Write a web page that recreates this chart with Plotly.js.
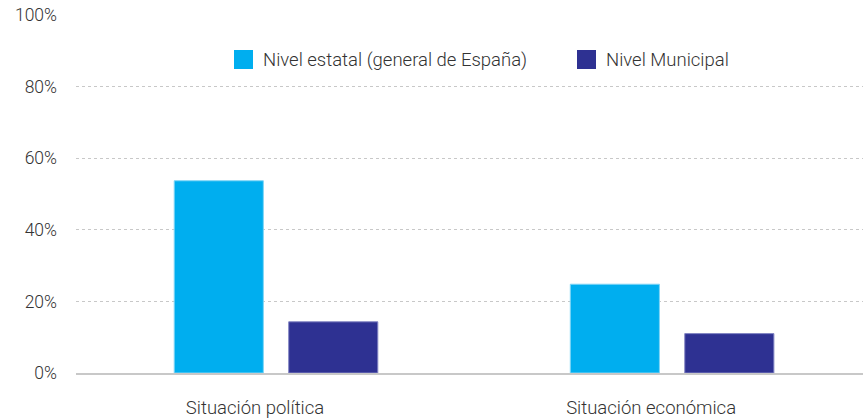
<!DOCTYPE html>
<html>
<head>
<meta charset="utf-8">
<script src="https://cdn.plot.ly/plotly-3.0.1.min.js"></script>
<style>html,body{margin:0;padding:0;background:#fff;}#chart{width:863px;height:419px;}</style>
</head>
<body>
<div id="chart"></div>
<script>
var categories = ["Situación política", "Situación económica"];
var seriesNames = ["Nivel estatal (general de España)", "Nivel Municipal"];
var estatal = [53.7, 24.8];
var municipal = [14.3, 11.0];
var yTicks = [0, 20, 40, 60, 80, 100];

var colors = ["#00AEEF", "#2E3192"];
var edge = ["#7FD5F6", "#8385C4"];

var W = 863, H = 419, L = 76, R = 0, T = 15, B = 46;
var pw = W - L - R, ph = H - T - B;
function px2x(p){ return (p - L) / pw; }
function py2y(p){ return (H - B - p) / ph; }

var fam = "Roboto, 'Helvetica Neue', Arial, sans-serif";
var font = {family: fam, size: 18.5, color: "#333333", weight: 300};
var yfont = {family: fam, size: 17.5, color: "#333333", weight: 300};

var traces = [
  {type: "bar", x: categories, y: estatal, name: seriesNames[0], offset: -0.204, width: 0.225,
   marker: {color: colors[0], line: {color: edge[0], width: 1}}, showlegend: false, hoverinfo: "none"},
  {type: "bar", x: categories, y: municipal, name: seriesNames[1], offset: 0.085, width: 0.225,
   marker: {color: colors[1], line: {color: edge[1], width: 1}}, showlegend: false, hoverinfo: "none"}
];

// legend drawn as shapes + text
var legendPos = [234, 577];
var shapes = [], annotations = [];
for (var i = 0; i < seriesNames.length; i++) {
  shapes.push({type: "rect", xref: "paper", yref: "paper",
    x0: px2x(legendPos[i]), x1: px2x(legendPos[i] + 19),
    y0: py2y(69), y1: py2y(50), fillcolor: colors[i], line: {width: 0}});
  annotations.push({xref: "paper", yref: "paper", x: px2x(legendPos[i] + 27), y: py2y(59.5),
    xanchor: "left", yanchor: "middle", showarrow: false, text: seriesNames[i], font: font});
}

var layout = {
  width: W, height: H,
  margin: {l: L, r: R, t: T, b: B, pad: 0},
  paper_bgcolor: "#ffffff", plot_bgcolor: "#ffffff",
  font: font,
  barmode: "overlay",
  showlegend: false,
  xaxis: {type: "category", range: [-0.452, 1.535], showgrid: false, zeroline: false,
    showline: true, linecolor: "#C8C8C8", linewidth: 2, ticks: "", ticklabelstandoff: 17,
    tickfont: font, fixedrange: true},
  yaxis: {range: [0, 100], tickvals: yTicks, ticktext: yTicks.map(function(v){return v + "%";}),
    showgrid: true, gridcolor: "#C8C8C8", griddash: "dot", gridwidth: 1,
    zeroline: false, showline: false, ticks: "", ticklabelstandoff: 18, tickfont: yfont, fixedrange: true},
  shapes: shapes,
  annotations: annotations
};

Plotly.newPlot("chart", traces, layout, {displayModeBar: false, staticPlot: true});
</script>
</body>
</html>
